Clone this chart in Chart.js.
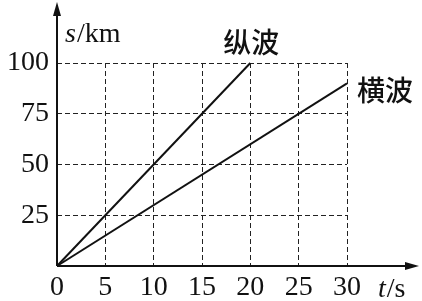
<!DOCTYPE html>
<html>
<head>
<meta charset="utf-8">
<script src="https://cdn.jsdelivr.net/npm/chart.js@4/dist/chart.umd.min.js"></script>
<style>
  html, body { margin: 0; padding: 0; background: #fff; }
  #wrap { width: 422px; height: 301px; }
</style>
</head>
<body>
<div id="wrap"><canvas id="c"></canvas></div>
<script>
// values
const longTimes = [0, 20];     // 纵波 t/s
const longDist = [0, 100];     // 纵波 s/km
const transTimes = [0, 30];    // 横波 t/s
const transDist = [0, 90];     // 横波 s/km
const xTicks = [0, 5, 10, 15, 20, 25, 30];
const yTicks = [0, 25, 50, 75, 100];

const serif = "'Liberation Serif', 'DejaVu Serif', serif";
const cjk = "'Noto Sans CJK SC', sans-serif";

function toPoints(xs, ys) {
    return xs.map((x, i) => ({ x: x, y: ys[i] }));
}

// axis arrows + labels
const decor = {
    id: "decor",
    afterDraw(chart) {
        const ctx = chart.ctx;
        const xs = chart.scales.x;
        const ys = chart.scales.y;
        const ox = xs.getPixelForValue(0);
        const oy = ys.getPixelForValue(0);
        ctx.save();
        ctx.strokeStyle = "#111";
        ctx.fillStyle = "#111";
        ctx.lineWidth = 2;
        ctx.setLineDash([]);
        // y axis
        ctx.beginPath();
        ctx.moveTo(ox, oy);
        ctx.lineTo(ox, 10);
        ctx.stroke();
        ctx.beginPath();
        ctx.moveTo(ox, 2);
        ctx.lineTo(ox - 4, 16);
        ctx.lineTo(ox + 4, 16);
        ctx.closePath();
        ctx.fill();
        // x axis
        ctx.beginPath();
        ctx.moveTo(ox, oy);
        ctx.lineTo(412, oy);
        ctx.stroke();
        ctx.beginPath();
        ctx.moveTo(419, oy);
        ctx.lineTo(405, oy - 4);
        ctx.lineTo(405, oy + 4);
        ctx.closePath();
        ctx.fill();

        // axis names
        ctx.textBaseline = "alphabetic";
        ctx.textAlign = "left";
        ctx.font = "italic 28px " + serif;
        ctx.fillText("s", 65, 42);
        let w = ctx.measureText("s").width;
        ctx.font = "28px " + serif;
        ctx.fillText("/km", 65 + w + 1, 42);

        ctx.font = "italic 28px " + serif;
        ctx.fillText("t", 378, 297);
        w = ctx.measureText("t").width;
        ctx.font = "28px " + serif;
        ctx.fillText("/s", 378 + w + 1, 297);

        // series names
        ctx.font = "500 28px " + cjk;
        ctx.textAlign = "center";
        ctx.textBaseline = "middle";
        ctx.fillText("纵波", xs.getPixelForValue(20) + 1, ys.getPixelForValue(100) - 21);
        ctx.textAlign = "left";
        ctx.fillText("横波", xs.getPixelForValue(30) + 10, ys.getPixelForValue(90) + 7);
        ctx.restore();
    }
};

new Chart(document.getElementById("c"), {
    type: "line",
    data: {
        datasets: [
            {
                label: "纵波",
                data: toPoints(longTimes, longDist),
                borderColor: "#111",
                borderWidth: 2,
                pointRadius: 0,
                fill: false,
                tension: 0,
                clip: false
            },
            {
                label: "横波",
                data: toPoints(transTimes, transDist),
                borderColor: "#111",
                borderWidth: 2,
                pointRadius: 0,
                fill: false,
                tension: 0,
                clip: false
            }
        ]
    },
    options: {
        responsive: true,
        maintainAspectRatio: false,
        animation: false,
        events: [],
        layout: { padding: { left: 0, right: 75, top: 63, bottom: 0 } },
        plugins: {
            legend: { display: false },
            tooltip: { enabled: false }
        },
        scales: {
            x: {
                type: "linear",
                min: 0,
                max: 30,
                afterFit: (s) => { s.height = 35; },
                afterBuildTicks: (s) => { s.ticks = xTicks.map(v => ({ value: v })); },
                ticks: {
                    color: "#111",
                    padding: 5,
                    font: { family: serif, size: 28 }
                },
                grid: { color: "#222", lineWidth: 1, drawTicks: false },
                border: { display: false, dash: [5, 3] }
            },
            y: {
                min: 0,
                max: 100,
                afterFit: (s) => { s.width = 57; },
                afterBuildTicks: (s) => { s.ticks = yTicks.map(v => ({ value: v })); },
                ticks: {
                    color: "#111",
                    padding: 8,
                    font: { family: serif, size: 28 },
                    callback: (v) => v === 0 ? "" : v
                },
                grid: { color: "#222", lineWidth: 1, drawTicks: false },
                border: { display: false, dash: [5, 3] }
            }
        }
    },
    plugins: [decor]
});
</script>
</body>
</html>
